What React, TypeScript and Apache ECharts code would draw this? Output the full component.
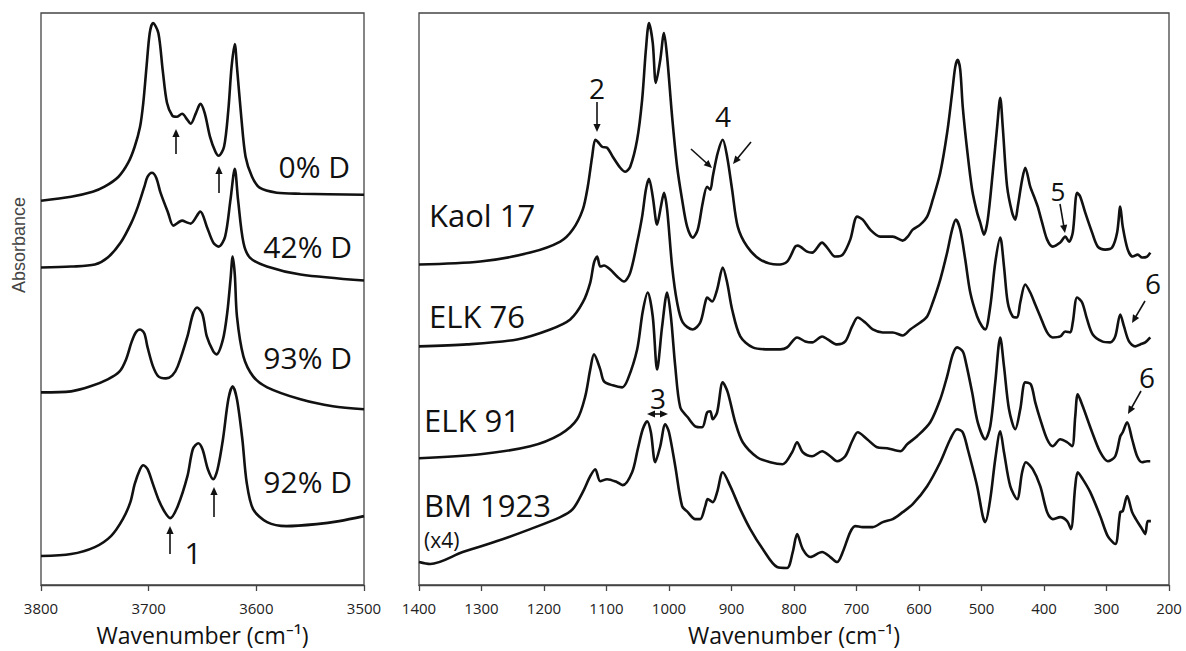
import React, { useEffect, useRef } from "react";
import * as echarts from "echarts";

const FONT = '"Open Sans", "Noto Sans", sans-serif';

// ---- axes ----
const leftMin = 3500;
const leftMax = 3800;
const rightMin = 200;
const rightMax = 1400;
const tickStep = 100;
const absMax = 573; // arbitrary absorbance units (stacked, offset)
const axisTitle = "Wavenumber (cm\u207B\u00B9)";

// ---- left panel: OH stretching region, deuteration series ----
const leftLabels = ["0% D", "42% D", "93% D", "92% D"];
const left0 = [[3800,385],[3772,389],[3752,394],[3741,399],[3728,409],[3719,423],[3713,439],[3708,459],[3705,483],[3702,519],[3699,553],[3696,563],[3691,553],[3687,516],[3683,483],[3678,470],[3674,469],[3669,472],[3664,466],[3661,462],[3656,473],[3652,482],[3648,473],[3643,449],[3638,434],[3635,430],[3630,439],[3626,476],[3623,519],[3620,542],[3618,519],[3614,469],[3610,429],[3604,409],[3597,398],[3581,393],[3559,392],[3500,391]];
const left42 = [[3800,318],[3772,319],[3750,321],[3738,328],[3726,343],[3716,363],[3710,379],[3704,399],[3701,409],[3697,413],[3693,408],[3689,393],[3682,373],[3677,360],[3669,365],[3664,363],[3661,362],[3652,374],[3646,359],[3640,343],[3635,339],[3629,349],[3624,386],[3620,417],[3617,386],[3612,343],[3606,328],[3590,319],[3559,311],[3500,305]];
const left93 = [[3800,193],[3772,194],[3754,199],[3738,206],[3727,214],[3721,226],[3716,243],[3712,253],[3708,256],[3704,252],[3701,238],[3696,219],[3691,209],[3684,207],[3678,210],[3673,219],[3664,249],[3659,271],[3655,278],[3650,271],[3646,249],[3640,234],[3637,231],[3631,246],[3627,273],[3624,306],[3622,329],[3620,311],[3618,269],[3612,229],[3603,209],[3590,198],[3559,186],[3529,179],[3500,176]];
const left92 = [[3800,29],[3772,31],[3750,38],[3735,49],[3724,66],[3717,83],[3713,101],[3708,116],[3705,120],[3701,116],[3696,101],[3691,86],[3685,73],[3680,67],[3673,79],[3664,109],[3659,136],[3654,142],[3650,136],[3645,116],[3640,106],[3636,116],[3631,146],[3626,186],[3622,199],[3618,186],[3613,146],[3609,103],[3603,76],[3590,63],[3572,59],[3544,61],[3523,64],[3500,69]];

// ---- right panel: 1400-200 cm-1 region ----
const rightLabels = ["Kaol 17", "ELK 76", "ELK 91", "BM 1923"];
const kaol17 = [[1400,321],[1302,324],[1222,333],[1174,344],[1154,356],[1138,376],[1130,399],[1123,429],[1118,446],[1114,444],[1107,439],[1099,438],[1090,429],[1078,418],[1070,414],[1062,419],[1051,446],[1043,486],[1037,536],[1032,563],[1026,543],[1021,503],[1014,526],[1008,553],[1003,529],[995,469],[987,419],[979,386],[971,359],[962,348],[954,356],[946,383],[939,399],[934,396],[930,409],[922,433],[914,446],[907,429],[899,396],[890,359],[875,339],[854,326],[827,321],[811,324],[798,339],[794,340],[779,334],[771,333],[755,343],[747,338],[734,329],[722,331],[710,346],[699,369],[690,366],[678,356],[662,349],[642,349],[626,345],[618,349],[610,356],[598,361],[587,369],[578,386],[566,413],[555,453],[547,493],[542,519],[538,526],[534,516],[530,479],[523,436],[515,396],[507,373],[502,363],[496,351],[490,366],[482,413],[475,459],[470,488],[466,459],[459,399],[451,373],[446,366],[442,379],[435,406],[430,418],[422,399],[414,386],[410,379],[403,363],[395,346],[386,339],[374,343],[366,349],[360,344],[354,353],[347,393],[342,389],[334,373],[323,353],[314,339],[302,336],[291,338],[283,353],[278,379],[274,359],[266,336],[258,329],[250,331],[243,328],[235,329],[230,333]];
const elk76 = [[1400,239],[1323,241],[1243,246],[1190,256],[1158,266],[1138,283],[1126,303],[1120,323],[1115,329],[1110,319],[1104,320],[1094,316],[1083,309],[1072,304],[1062,313],[1051,343],[1043,369],[1037,396],[1032,407],[1026,389],[1019,361],[1013,379],[1008,393],[1003,376],[995,319],[987,283],[978,263],[962,256],[950,263],[942,283],[939,288],[931,284],[923,296],[914,318],[907,303],[899,276],[886,249],[866,238],[838,236],[822,236],[811,238],[795,248],[782,244],[771,243],[755,249],[746,246],[731,241],[718,244],[707,259],[698,268],[686,263],[674,256],[658,253],[642,253],[626,250],[614,256],[598,263],[587,269],[578,283],[566,306],[555,333],[547,356],[541,366],[534,356],[526,326],[518,293],[507,269],[499,259],[494,256],[486,279],[478,323],[470,348],[464,319],[458,283],[450,269],[443,268],[438,283],[430,301],[422,293],[414,281],[406,269],[395,253],[386,248],[374,249],[366,254],[358,253],[354,263],[347,288],[339,283],[331,266],[322,251],[307,244],[294,243],[286,249],[278,271],[272,259],[264,244],[254,239],[246,241],[238,243],[230,248]];
const elk91 = [[1400,127],[1302,131],[1222,139],[1174,151],[1147,166],[1134,189],[1126,216],[1120,231],[1110,216],[1104,204],[1090,200],[1075,198],[1066,206],[1051,236],[1042,274],[1034,293],[1026,269],[1019,216],[1011,259],[1003,293],[997,269],[990,219],[982,178],[970,168],[958,159],[947,158],[939,173],[934,174],[930,166],[923,173],[914,203],[906,193],[894,163],[882,143],[859,128],[838,123],[818,121],[803,133],[795,143],[786,133],[771,129],[755,134],[742,129],[731,124],[718,129],[707,144],[698,153],[683,146],[667,138],[651,137],[630,134],[619,141],[603,149],[582,163],[566,186],[555,209],[546,231],[539,238],[530,234],[525,223],[515,193],[506,163],[494,146],[486,159],[478,203],[470,248],[464,219],[456,176],[446,156],[438,176],[430,203],[421,201],[414,183],[406,166],[395,146],[386,139],[374,146],[363,143],[355,139],[350,169],[346,191],[338,179],[323,153],[310,133],[298,124],[286,129],[278,149],[274,153],[267,163],[259,146],[251,129],[243,123],[235,124],[230,124]];
const bm1923 = [[1400,23],[1382,21],[1330,33],[1275,44],[1222,56],[1174,68],[1154,76],[1138,93],[1126,109],[1118,116],[1110,104],[1099,106],[1083,103],[1074,100],[1059,113],[1050,136],[1042,156],[1035,164],[1029,153],[1022,123],[1014,139],[1006,161],[1000,153],[990,119],[979,79],[970,73],[958,66],[950,66],[942,79],[938,86],[930,83],[923,93],[914,113],[902,99],[886,76],[870,56],[850,36],[827,18],[811,17],[802,33],[795,51],[786,36],[774,28],[755,33],[742,28],[731,23],[722,33],[710,53],[702,59],[690,58],[674,58],[658,63],[642,66],[626,73],[610,81],[587,99],[566,123],[550,146],[539,156],[530,153],[522,136],[507,99],[498,69],[494,63],[486,86],[478,126],[470,154],[464,133],[454,99],[443,86],[435,113],[429,123],[418,116],[406,99],[395,73],[386,66],[374,68],[363,64],[357,56],[350,99],[346,113],[338,106],[326,93],[310,69],[298,49],[286,41],[278,73],[274,74],[267,89],[259,73],[253,66],[243,56],[238,51],[234,64],[229,64]];

const INK = "#111";
const AXIS = "#444";

function arrowHead(tx: number, ty: number, ux: number, uy: number) {
  const hl = 8, hw = 3.6;
  const bx = tx - ux * hl, by = ty - uy * hl;
  return {
    type: "polygon",
    silent: true,
    shape: { points: [[tx, ty], [bx - uy * hw, by + ux * hw], [bx + uy * hw, by - ux * hw]] },
    style: { fill: INK },
  };
}

function arrow(x1: number, y1: number, x2: number, y2: number, both = false) {
  const dx = x2 - x1, dy = y2 - y1, L = Math.hypot(dx, dy);
  const ux = dx / L, uy = dy / L;
  const els: any[] = [
    { type: "line", silent: true, shape: { x1: both ? x1 + ux * 6 : x1, y1: both ? y1 + uy * 6 : y1, x2: x2 - ux * 6, y2: y2 - uy * 6 }, style: { stroke: INK, lineWidth: 1.6 } },
    arrowHead(x2, y2, ux, uy),
  ];
  if (both) els.push(arrowHead(x1, y1, -ux, -uy));
  return els;
}

function txt(text: string, x: number, y: number, size: number, align = "left") {
  return {
    type: "text",
    silent: true,
    x,
    y,
    style: { text, fontSize: size, fontFamily: FONT, fill: INK, align, verticalAlign: "middle" },
  };
}

function xAxisCfg(gridIndex: number, min: number, max: number) {
  return {
    gridIndex,
    type: "value",
    inverse: true,
    min,
    max,
    interval: tickStep,
    name: axisTitle,
    nameLocation: "middle",
    nameGap: 38,
    nameTextStyle: { fontSize: 23, fontFamily: FONT, color: INK },
    axisLine: { show: true, lineStyle: { color: AXIS, width: 1.3 } },
    axisTick: { show: true, inside: false, length: 6, lineStyle: { color: AXIS, width: 1.3 } },
    axisLabel: { show: true, margin: 15, fontSize: 15, fontFamily: FONT, color: "#222", formatter: (v: number) => String(v) },
    splitLine: { show: false },
  };
}

function yAxisCfg(gridIndex: number) {
  return { gridIndex, type: "value", min: 0, max: absMax, show: false };
}

function lineSeries(name: string, data: number[][], idx: number) {
  return {
    name,
    type: "line",
    xAxisIndex: idx,
    yAxisIndex: idx,
    data,
    symbol: "none",
    showSymbol: false,
    smooth: 0.3,
    silent: true,
    lineStyle: { color: INK, width: 2.6 },
  };
}

export default function App() {
  const ref = useRef<HTMLDivElement>(null);
  useEffect(() => {
    if (!ref.current) return;
    const chart = echarts.init(ref.current, undefined, { renderer: "svg" });
    const gridStyle = { show: true, borderColor: AXIS, borderWidth: 1.3, backgroundColor: "transparent" };
    chart.setOption({
      animation: false,
      backgroundColor: "#fff",
      grid: [
        { left: 41, top: 13, width: 323, height: 573, ...gridStyle },
        { left: 419, top: 13, width: 750, height: 573, ...gridStyle },
      ],
      xAxis: [xAxisCfg(0, leftMin, leftMax), xAxisCfg(1, rightMin, rightMax)],
      yAxis: [yAxisCfg(0), yAxisCfg(1)],
      series: [
        lineSeries(leftLabels[0], left0, 0),
        lineSeries(leftLabels[1], left42, 0),
        lineSeries(leftLabels[2], left93, 0),
        lineSeries(leftLabels[3], left92, 0),
        lineSeries(rightLabels[0], kaol17, 1),
        lineSeries(rightLabels[1], elk76, 1),
        lineSeries(rightLabels[2], elk91, 1),
        lineSeries(rightLabels[3], bm1923, 1),
      ],
      graphic: [
        {
          type: "text",
          silent: true,
          x: 19,
          y: 245,
          rotation: Math.PI / 2,
          style: { text: "Absorbance", fontSize: 18, fontFamily: '"Liberation Sans", Arial, sans-serif', fill: "#444", align: "center", verticalAlign: "middle" },
        },
        txt(leftLabels[0], 350, 166, 30, "right"),
        txt(leftLabels[1], 352, 246, 30, "right"),
        txt(leftLabels[2], 352, 357, 30, "right"),
        txt(leftLabels[3], 352, 481, 30, "right"),
        txt("1", 193, 552, 30, "center"),
        ...arrow(176, 154, 176, 129),
        ...arrow(219, 193, 219, 166),
        ...arrow(170, 554, 170, 526),
        ...arrow(214, 517, 214, 487),
        txt(rightLabels[0], 429, 215, 31),
        txt(rightLabels[1], 429, 316, 31),
        txt(rightLabels[2], 424, 420, 31),
        txt(rightLabels[3], 424, 505, 31),
        txt("(x4)", 424, 540, 21),
        txt("2", 597, 88, 28, "center"),
        ...arrow(597, 102, 597, 132),
        txt("4", 723, 116, 28, "center"),
        ...arrow(691, 149, 712, 168),
        ...arrow(751, 142, 733, 164),
        txt("5", 1058, 191, 26, "center"),
        ...arrow(1060, 204, 1065, 233),
        txt("6", 1153, 283, 28, "center"),
        ...arrow(1145, 301, 1132, 323),
        txt("6", 1147, 377, 28, "center"),
        ...arrow(1141, 391, 1128, 414),
        txt("3", 658, 398, 28, "center"),
        ...arrow(647, 414, 668, 414, true),
      ],
    });
    return () => chart.dispose();
  }, []);
  return (
    <div
      ref={ref}
      style={{ position: "fixed", left: 0, top: 0, width: 1186, height: 651, background: "#fff" }}
    />
  );
}
